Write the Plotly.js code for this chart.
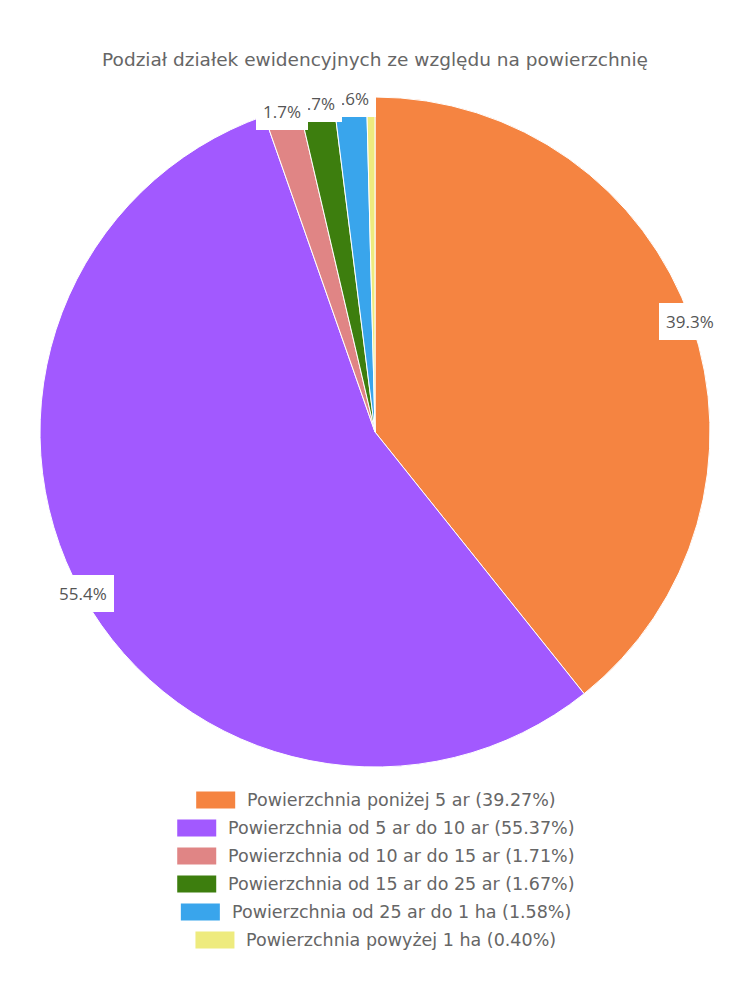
<!DOCTYPE html>
<html>
<head>
<meta charset="utf-8">
<script src="https://cdn.plot.ly/plotly-3.0.1.min.js"></script>
<style>html,body{margin:0;padding:0;background:#fff;}#chart{width:750px;height:1000px;}</style>
</head>
<body>
<div id="chart"></div>
<script>
const categories = [
  "Powierzchnia poniżej 5 ar",
  "Powierzchnia od 5 ar do 10 ar",
  "Powierzchnia od 10 ar do 15 ar",
  "Powierzchnia od 15 ar do 25 ar",
  "Powierzchnia od 25 ar do 1 ha",
  "Powierzchnia powyżej 1 ha"
];
const percentages = [39.27, 55.37, 1.71, 1.67, 1.58, 0.40];
const colors = ["#F58441", "#A259FF", "#E08585", "#3D7E0E", "#39A5EC", "#EEEB7E"];
const chartTitle = "Podział działek ewidencyjnych ze względu na powierzchnię";

const W = 750, H = 1000;
const FONT = "DejaVu Sans, Open Sans, sans-serif";
const LABEL_FONT = "Open Sans, sans-serif";
const TEXT = "#666666";

// pie geometry (pixels)
const pieCx = 375, pieCy = 432, pieR = 335;
const domX = [(pieCx - pieR) / W, (pieCx + pieR) / W];
const domY = [1 - (pieCy + pieR) / H, 1 - (pieCy - pieR) / H];

const trace = {
  type: "pie",
  labels: categories,
  values: percentages,
  sort: false,
  direction: "clockwise",
  rotation: 0,
  marker: { colors: colors, line: { color: "#ffffff", width: 1 } },
  textinfo: "none",
  hoverinfo: "label+percent",
  domain: { x: domX, y: domY },
  showlegend: false
};

const annotations = [];
const shapes = [];

// slice labels (white boxes at the rim); drawn from last to first so earlier ones sit on top
const total = percentages.reduce((a, b) => a + b, 0);
let cum = 0;
const labelList = [];
percentages.forEach((v, i) => {
  const mid = (cum + v / 2) / total * 2 * Math.PI;
  cum += v;
  if (v < 1) return;
  const r = pieR - 1;
  const px = pieCx + r * Math.sin(mid);
  const py = pieCy - r * Math.cos(mid);
  labelList.push({
    x: px / W, y: 1 - py / H, xref: "paper", yref: "paper",
    text: (Math.round(v * 10) / 10).toFixed(1) + "%",
    showarrow: false, xanchor: "center", yanchor: "middle",
    bgcolor: "#ffffff", borderpad: 7, borderwidth: 0,
    font: { family: LABEL_FONT, size: 17, color: "#555555" }
  });
});
labelList.reverse().forEach(a => annotations.push(a));

// custom centred legend
const ctx = document.createElement("canvas").getContext("2d");
const legFontSize = 17.5;
ctx.font = legFontSize + "px 'DejaVu Sans'";
const swW = 39, swH = 17, gap = 10, rowTop = 800, rowStep = 28;
categories.forEach((c, i) => {
  const txt = c + " (" + percentages[i].toFixed(2) + "%)";
  const tw = ctx.measureText(txt).width;
  const totalW = swW + gap + tw;
  const left = W / 2 - totalW / 2;
  const yc = rowTop + rowStep * i;
  shapes.push({
    type: "rect", xref: "paper", yref: "paper",
    x0: left / W, x1: (left + swW) / W,
    y0: 1 - (yc + swH / 2) / H, y1: 1 - (yc - swH / 2) / H,
    fillcolor: colors[i], line: { width: 0 }
  });
  annotations.push({
    x: (left + swW + gap) / W, y: 1 - yc / H, xref: "paper", yref: "paper",
    text: txt, showarrow: false, xanchor: "left", yanchor: "middle",
    font: { family: FONT, size: legFontSize, color: TEXT }
  });
});

const layout = {
  width: W, height: H,
  margin: { l: 0, r: 0, t: 0, b: 0 },
  paper_bgcolor: "#ffffff",
  title: {
    text: chartTitle, x: 0.5, xanchor: "center", y: 1 - 60 / H, yanchor: "middle",
    yref: "container",
    font: { family: FONT, size: 18.5, color: TEXT }
  },
  showlegend: false,
  annotations: annotations,
  shapes: shapes
};

Plotly.newPlot("chart", [trace], layout, { displayModeBar: false, staticPlot: true });
</script>
</body>
</html>
